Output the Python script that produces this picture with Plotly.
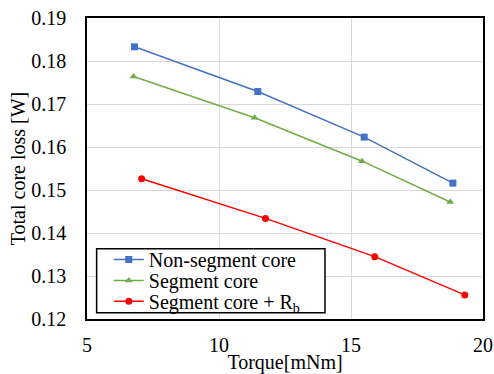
import plotly.graph_objects as go

torque_non = [6.80, 11.47, 15.50, 18.86]
loss_non = [0.1833, 0.1729, 0.1623, 0.1516]
torque_seg = [6.76, 11.35, 15.42, 18.76]
loss_seg = [0.1764, 0.1668, 0.1567, 0.1472]
torque_rb = [7.07, 11.76, 15.90, 19.31]
loss_rb = [0.1526, 0.1434, 0.1345, 0.1256]
names = ["Non-segment core", "Segment core", "Segment core + R<sub>b</sub>"]

FONT = "Times New Roman"

series = [
    (torque_non, loss_non, names[0], "#4472C4", "square", "legend"),
    (torque_seg, loss_seg, names[1], "#70AD47", "triangle-up", "legend2"),
    (torque_rb, loss_rb, names[2], "#FF0000", "circle", "legend3"),
]

fig = go.Figure()
for xs, ys, nm, col, sym, lg in series:
    fig.add_trace(go.Scatter(x=xs, y=ys, name=nm, mode="lines+markers", legend=lg,
                             line=dict(color=col, width=1.5),
                             marker=dict(symbol=sym, size=7, color=col)))

def leg(yc):
    return dict(x=0.055, y=yc, xanchor="left", yanchor="middle",
                bgcolor="rgba(0,0,0,0)", borderwidth=0,
                font=dict(family=FONT, size=20, color="black"), itemwidth=30)

fig.update_layout(
    template="none",
    width=494, height=374,
    margin=dict(l=87, r=11, t=18, b=55),
    paper_bgcolor="white", plot_bgcolor="white",
    font=dict(family=FONT, size=20, color="black"),
    showlegend=True,
    legend=leg(0.1975), legend2=leg(0.1278), legend3=leg(0.0591),
    shapes=[dict(type="rect", xref="paper", yref="paper", x0=0.0243, x1=0.601,
                 y0=0.0206, y1=0.233, fillcolor="white", line=dict(color="black", width=1.5),
                 layer="above")],
    xaxis=dict(range=[5, 20], dtick=5, tick0=5, showgrid=True, gridcolor="#d9d9d9", gridwidth=1.2,
               showline=True, linecolor="black", linewidth=1.5, mirror=True, zeroline=False,
               ticks="", ticklabelstandoff=7, ticklabeloverflow="allow",
               tickfont=dict(family=FONT, size=20),
               title=dict(text="Torque[mNm]", standoff=1, font=dict(family=FONT, size=20))),
    yaxis=dict(range=[0.12, 0.19], dtick=0.01, tickformat=".2f", showgrid=True, gridcolor="#d9d9d9",
               gridwidth=1.2, showline=True, linecolor="black", linewidth=1.5, mirror=True,
               zeroline=False, ticks="", ticklabelstandoff=15, tickfont=dict(family=FONT, size=20),
               title=dict(text="Total core loss [W]", standoff=0, font=dict(family=FONT, size=20))),
)

fig.write_html("out.html")
